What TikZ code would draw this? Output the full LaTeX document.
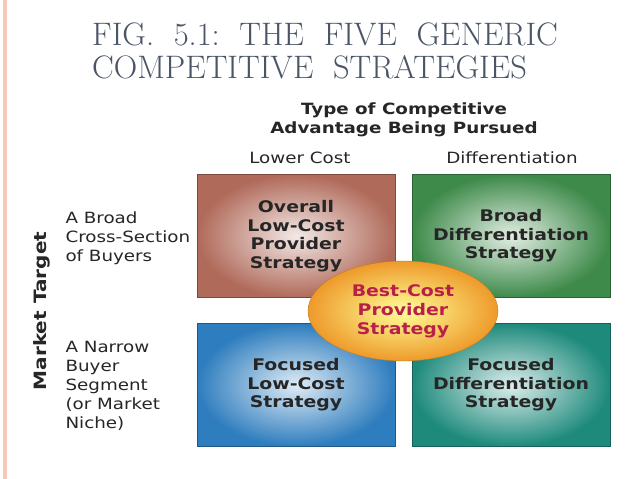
\documentclass[tikz,border=0pt]{standalone}
\usepackage{fontspec}
\setsansfont{DejaVu Sans}[FakeStretch=1.18]
\usetikzlibrary{positioning,shapes.geometric}
\definecolor{titlegray}{HTML}{4A5566}
\definecolor{stripe}{HTML}{F8C9B9}
\definecolor{costred}{HTML}{B06A5A}
\definecolor{diffgreen}{HTML}{3E8A4A}
\definecolor{focblue}{HTML}{2E7DBE}
\definecolor{focteal}{HTML}{1E8A7C}
\definecolor{bestorange}{HTML}{EE9A2A}
\definecolor{bestred}{HTML}{B8204A}
\begin{document}
\begin{tikzpicture}[x=1pt,y=-1pt]

            % Define styles
            \tikzset{
              quad/.style={rectangle, draw=#1!70!black, line width=0.8pt, inner color=#1!15!white, outer color=#1,
                minimum width=198pt, minimum height=123pt, align=center, text=black!85,
                font=\sffamily\bfseries\fontsize{16}{18.5}\selectfont},
              sidelabel/.style={align=left, anchor=north west, font=\sffamily\fontsize{15.5}{19}\selectfont, text=black!85},
              headlabel/.style={font=\sffamily\fontsize{15.5}{18}\selectfont, text=black!85}
            }
            \useasboundingbox (0,0) rectangle (638,479);
            \fill[white] (0,0) rectangle (638,479);
            \fill[stripe] (3,0) rectangle (7,479);

            % Title
            \node[anchor=north west, align=left, text=titlegray, inner sep=0pt,
              font=\rmfamily\fontsize{32.5}{32}\selectfont] (title) at (92,23)
              {FIG.\ \ 5.1:\ \ THE\ \ FIVE\ \ GENERIC\\[1pt] COMPETITIVE\ \ STRATEGIES};

            % Quadrants
            \node[quad=costred] (lowcost) at (296,236) {Overall\\Low-Cost\\Provider\\Strategy};
            \node[quad=diffgreen] (broaddiff) at (511,236) {Broad\\Differentiation\\Strategy};
            \node[quad=focblue] (foclow) at (296,385) {Focused\\Low-Cost\\Strategy};
            \node[quad=focteal] (focdiff) at (511,385) {Focused\\Differentiation\\Strategy};

            % Central Strategy
            \node[ellipse, draw=bestorange!80!black, inner color=yellow!40, outer color=bestorange,
              minimum width=190pt, minimum height=100pt, align=center, text=bestred,
              font=\sffamily\bfseries\fontsize{16}{19}\selectfont] (bestcost) at (403,311)
              {Best-Cost\\Provider\\Strategy};

            % Headings
            \node[align=center, text=black!85, font=\sffamily\bfseries\fontsize{15.5}{19}\selectfont]
              (advantage) at (404,120) {Type of Competitive\\Advantage Being Pursued};
            \node[headlabel] (lower) at (300,158) {Lower Cost};
            \node[headlabel] (differ) at (512,158) {Differentiation};
            \node[sidelabel] (broad) at (62,208) {A Broad\\Cross-Section\\of Buyers};
            \node[sidelabel] (narrow) at (62,338) {A Narrow\\Buyer\\Segment\\(or Market\\Niche)};
            \node[rotate=90, text=black!85, font=\sffamily\bfseries\fontsize{17}{19}\selectfont]
              (market) at (42,311) {Market Target};

        \end{tikzpicture}
\end{document}
